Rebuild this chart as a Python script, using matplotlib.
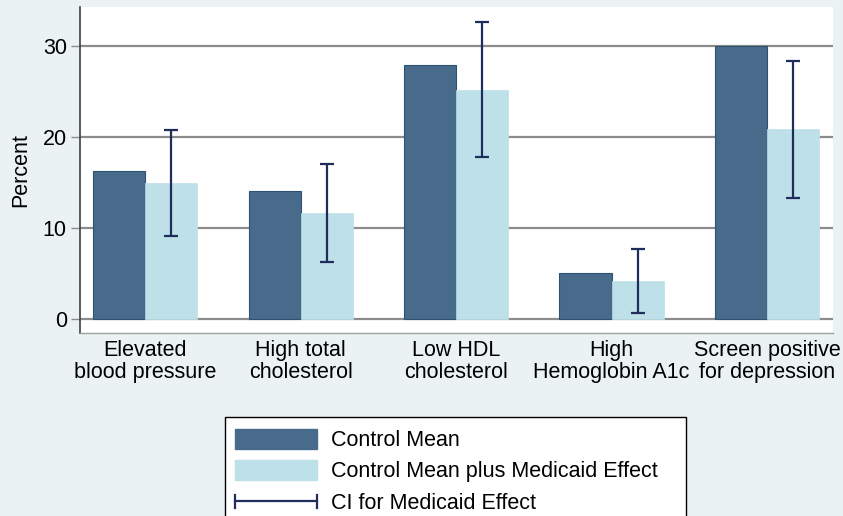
import matplotlib
matplotlib.use("Agg")
import matplotlib.pyplot as plt
from matplotlib.patches import Patch, Rectangle
from matplotlib.lines import Line2D
from matplotlib.legend_handler import HandlerBase
import numpy as np

categories = ["Elevated\nblood pressure", "High total\ncholesterol", "Low HDL\ncholesterol",
              "High\nHemoglobin A1c", "Screen positive\nfor depression"]
control_mean = [16.3, 14.1, 27.9, 5.1, 30.0]
control_plus_effect = [14.9, 11.6, 25.2, 4.2, 20.9]
ci_upper = [20.8, 17.0, 32.6, 7.7, 28.4]
ci_lower = [9.1, 6.3, 17.8, 0.7, 13.3]
yticks = [0, 10, 20, 30]

BG = "#EAF2F3"
DARK = "#486B8C"
LIGHT = "#BEE0E9"
ERR = "#1F2D5A"
GRID = "#8C8C8C"

plt.rcParams["font.family"] = ["Liberation Sans", "DejaVu Sans"]
fs = 15.5

fig = plt.figure(figsize=(8.43, 5.16), dpi=100, facecolor=BG)
ax = fig.add_axes([80/843, (516-333)/516, (833-80)/843, (333-7)/516])
ax.set_facecolor("white")

x = np.arange(len(categories))
w = 0.335
ax.bar(x - w/2, control_mean, width=w, color=DARK, edgecolor="#2E5273", linewidth=0.8, zorder=3)
ax.bar(x + w/2, control_plus_effect, width=w, color=LIGHT, edgecolor=LIGHT, linewidth=0.5, zorder=3)
mid = (np.array(ci_upper) + np.array(ci_lower)) / 2
err = (np.array(ci_upper) - np.array(ci_lower)) / 2
ax.errorbar(x + w/2, mid, yerr=err, fmt="none", ecolor=ERR, elinewidth=1.6,
            capsize=4.8, capthick=1.6, zorder=4)

ax.set_xlim(-0.42, 4.425)
ax.set_ylim(-1.54, 34.3)
ax.set_yticks(yticks)
ax.set_yticklabels([str(t) for t in yticks], fontsize=fs)
ax.set_xticks(x)
ax.set_xticklabels(categories, fontsize=fs, linespacing=1.05)
ax.tick_params(axis="x", length=0, pad=5)
ax.tick_params(axis="y", length=6.5, width=1.0, color=GRID, pad=3)
for t in yticks:
    ax.axhline(t, color=GRID, linewidth=1.6, zorder=1)
ax.set_ylabel("Percent", fontsize=fs, labelpad=8)

for s in ["top", "right"]:
    ax.spines[s].set_visible(False)
ax.spines["left"].set_color("#404040")
ax.spines["left"].set_linewidth(1.2)
ax.spines["bottom"].set_color("#A0A0A0")
ax.spines["bottom"].set_linewidth(1.0)


class CapLine:
    pass


class HandlerCapLine(HandlerBase):
    def create_artists(self, legend, orig_handle, xdescent, ydescent, width, height, fontsize, trans):
        y = height / 2 - ydescent
        x0 = -xdescent
        x1 = -xdescent + width
        h = height * 0.32
        line = Line2D([x0, x1], [y, y], color=ERR, linewidth=1.6, transform=trans)
        c1 = Line2D([x0, x0], [y - h, y + h], color=ERR, linewidth=1.6, transform=trans)
        c2 = Line2D([x1, x1], [y - h, y + h], color=ERR, linewidth=1.6, transform=trans)
        return [line, c1, c2]


# legend box (extends past the bottom edge like the reference)
box = Rectangle((225/843, -10/516), (686-225)/843, (516-417+10)/516, transform=fig.transFigure,
                facecolor="white", edgecolor="black", linewidth=1.0, zorder=1)
fig.patches.append(box)

handles = [Patch(facecolor=DARK, edgecolor=DARK), Patch(facecolor=LIGHT, edgecolor=LIGHT), CapLine()]
labels = ["Control Mean", "Control Mean plus Medicaid Effect", "CI for Medicaid Effect"]
leg = fig.legend(handles, labels, loc="upper left", bbox_to_anchor=(225/843, (516-419)/516),
                 fontsize=fs, frameon=False,
                 handlelength=3.8, handleheight=1.02, handletextpad=0.65,
                 borderpad=0.47, labelspacing=0.42, borderaxespad=0,
                 handler_map={CapLine: HandlerCapLine()})
leg.set_zorder(2)

fig.savefig("out.png", dpi=100, facecolor=BG)
